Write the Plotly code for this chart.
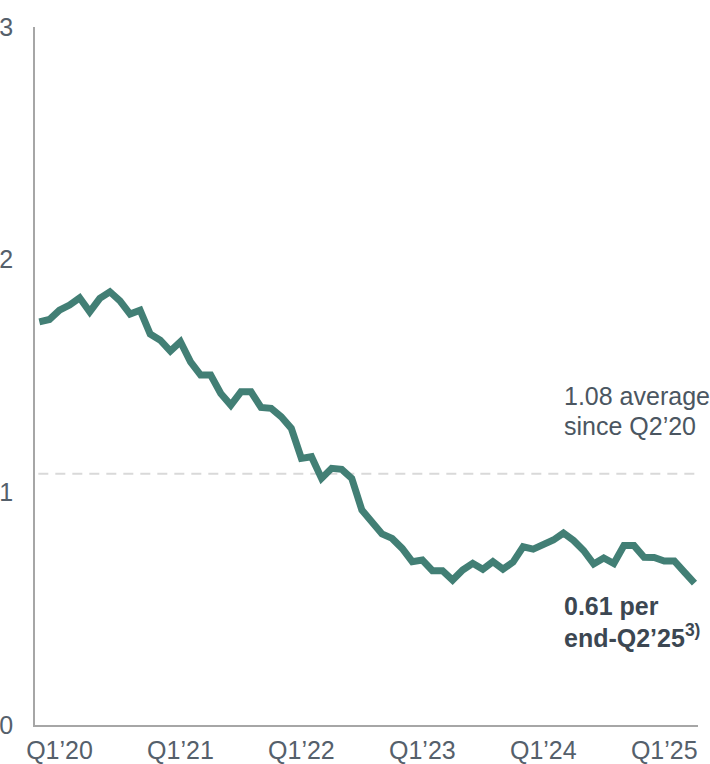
import pandas as pd
import plotly.graph_objects as go

# Monthly ratio, Jan 2020 - Jun 2025
months = pd.date_range("2020-01-01", "2025-06-01", freq="MS").strftime("%Y-%m").tolist()
ratio = [
    1.733, 1.743, 1.783, 1.805, 1.836, 1.776, 1.834, 1.862, 1.823, 1.766,
    1.783, 1.680, 1.654, 1.607, 1.647, 1.561, 1.504, 1.504, 1.425, 1.375,
    1.432, 1.432, 1.365, 1.361, 1.325, 1.275, 1.146, 1.153, 1.060, 1.103,
    1.099, 1.060, 0.924, 0.867, 0.821, 0.802, 0.759, 0.702, 0.709, 0.663,
    0.663, 0.623, 0.666, 0.695, 0.669, 0.702, 0.670, 0.700, 0.766, 0.756,
    0.774, 0.795, 0.825, 0.793, 0.750, 0.692, 0.718, 0.694, 0.771, 0.771,
    0.721, 0.720, 0.705, 0.705, 0.657, 0.610,
]
average_since_q2_20 = 1.08

tick_months = ["2020-03", "2021-03", "2022-03", "2023-03", "2024-03", "2025-03"]
tick_labels = ["Q1\u201920", "Q1\u201921", "Q1\u201922", "Q1\u201923", "Q1\u201924", "Q1\u201925"]
y_ticks = [0, 1, 2, 3]

LINE = "#427f75"
AXIS = "#a6a6a6"
TICK_TEXT = "#55606b"
NOTE_TEXT = "#4b5661"
BOLD_TEXT = "#3c4752"
FONT = "Arial, Liberation Sans, sans-serif"

fig = go.Figure()

fig.add_trace(go.Scatter(
    x=months, y=ratio, mode="lines",
    line=dict(color=LINE, width=7),
    hoverinfo="skip", showlegend=False,
))

# Long-run average reference line
fig.add_shape(
    type="line", xref="paper", yref="y",
    x0=0.005, x1=1, y0=average_since_q2_20, y1=average_since_q2_20,
    line=dict(color="#d9d9d9", width=2, dash="10px,7px"),
    layer="below",
)

note_font = dict(family=FONT, size=25, color=NOTE_TEXT)
bold_font = dict(family=FONT, size=25, color=BOLD_TEXT)
last = ratio[-1]

annotations = [
    dict(text=f"{average_since_q2_20:.2f} average", x=0.796, y=0.471, font=note_font),
    dict(text="since Q2\u201920", x=0.796, y=0.428, font=note_font),
    dict(text=f"<b>{last:.2f} per</b>", x=0.796, y=0.170, font=bold_font),
    dict(text="<b>end-Q2\u201925<sup>3)</sup></b>", x=0.796, y=0.127, font=bold_font),
]
for a in annotations:
    fig.add_annotation(
        xref="paper", yref="paper", xanchor="left", yanchor="middle",
        showarrow=False, align="left", borderpad=0, **a,
    )

fig.update_layout(
    width=710, height=764, autosize=False,
    margin=dict(l=35, r=12, t=27, b=39),
    paper_bgcolor="white", plot_bgcolor="white",
    font=dict(family=FONT, size=25, color=TICK_TEXT),
    xaxis=dict(
        type="category", range=[-0.43, 65.35], automargin=False,
        tickvals=tick_months, ticktext=tick_labels,
        showline=True, linecolor=AXIS, linewidth=1.5,
        showgrid=False, zeroline=False, ticks="",
        tickfont=dict(family=FONT, size=25, color=TICK_TEXT),
        ticklabelstandoff=2,
    ),
    yaxis=dict(
        range=[0, 3], tickvals=y_ticks, automargin=False,
        showline=True, linecolor=AXIS, linewidth=1.5,
        showgrid=False, zeroline=False, ticks="",
        tickfont=dict(family=FONT, size=25, color=TICK_TEXT),
        ticklabelstandoff=15,
    ),
)

fig.write_html("out.html")
